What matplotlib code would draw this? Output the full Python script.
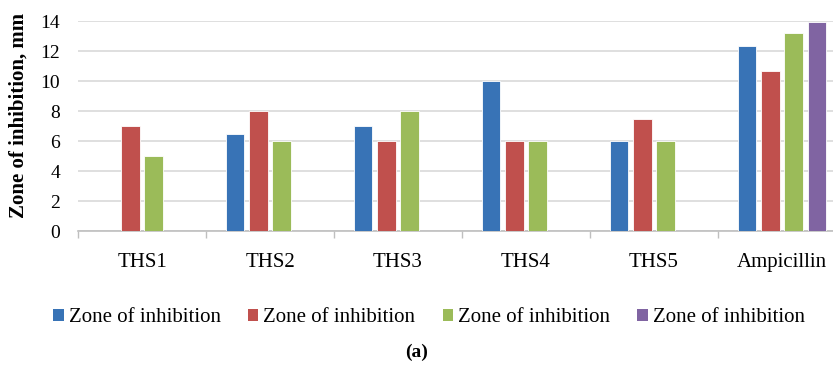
"""
Zone d'inhibition - histogramme groupé (a)
"""

import numpy as np
import matplotlib
matplotlib.use('Agg')
import matplotlib.pyplot as plt
from matplotlib.patches import Patch

# Données
categories = ['THS1', 'THS2', 'THS3', 'THS4', 'THS5', 'Ampicillin']
serie_bleue = [0, 6.5, 7, 10, 6, 12.35]
serie_rouge = [7, 8, 6, 6, 7.5, 10.65]
serie_verte = [5, 6, 8, 6, 6, 13.2]
serie_violette = [0, 0, 0, 0, 0, 13.95]
legend_labels = ['Zone of inhibition'] * 4
y_ticks = [0, 2, 4, 6, 8, 10, 12, 14]

couleurs = ['#3873B6', '#C0504D', '#9BBB59', '#8064A2']
series = [serie_bleue, serie_rouge, serie_verte, serie_violette]

plt.rcParams['font.family'] = ['Liberation Serif', 'DejaVu Serif']

fig = plt.figure(figsize=(8.33, 3.73), dpi=100)
ax = fig.add_axes([78 / 833, 1 - 231 / 373, 768 / 833, 210 / 373])

x = np.arange(len(categories))
pas = 0.182
largeur = 0.145
for i, (vals, c) in enumerate(zip(series, couleurs)):
    pos = x + (i - 1.5) * pas
    for p, v in zip(pos, vals):
        if v > 0:
            ax.bar(p, v, width=largeur, color=c, edgecolor='white', linewidth=0.6, zorder=3)

ax.set_xlim(-0.5, len(categories) - 0.5)
ax.set_ylim(0, 14)
ax.set_yticks(y_ticks)
ax.yaxis.grid(True, color='#D9D9D9', linewidth=1.2, zorder=0)
ax.set_axisbelow(True)

ax.set_xticks(x)
ax.set_xticklabels(categories, fontsize=15)
ax.set_xticks(np.arange(-0.5, len(categories), 1), minor=True)
ax.tick_params(axis='x', which='major', length=0, pad=16)
ax.tick_params(axis='x', which='minor', length=5, color='#BFBFBF', width=1)
ax.tick_params(axis='y', length=0, labelsize=14, pad=13)

for s in ['top', 'right', 'left']:
    ax.spines[s].set_visible(False)
ax.spines['bottom'].set_color('#BFBFBF')
ax.spines['bottom'].set_linewidth(1.2)

# étiquette de l'axe Y un peu décalée vers le haut comme dans l'original
ax.set_ylabel('Zone of inhibition, mm', fontsize=15, fontweight='bold', va='center')
ax.yaxis.set_label_coords(-0.078, 0.55)

handles = [Patch(facecolor=c, edgecolor='none') for c in couleurs]
fig.legend(handles, legend_labels, loc='center', bbox_to_anchor=(0.515, 1 - 318 / 373),
           ncol=4, frameon=False, fontsize=15, handlelength=0.5, handleheight=0.5,
           handletextpad=0.25, columnspacing=1.3)

fig.text(0.5, 1 - 352 / 373, '(a)', ha='center', va='center', fontsize=14, fontweight='bold')

plt.savefig('out.png', dpi=100)
